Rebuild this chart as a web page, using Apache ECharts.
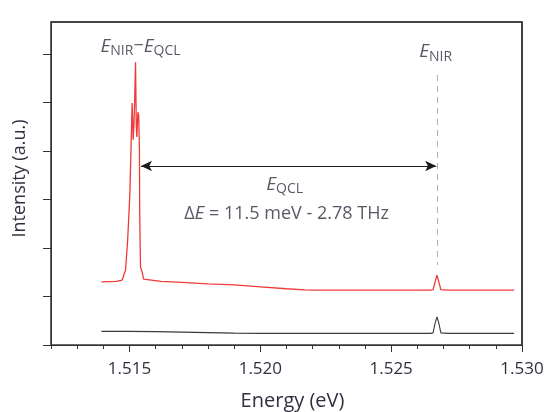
<!DOCTYPE html>
<html>
<head>
<meta charset="utf-8">
<script src="https://cdn.jsdelivr.net/npm/echarts@6/dist/echarts.min.js"></script>
<style>
html,body{margin:0;padding:0;background:#fff;}
#chart{width:546px;height:412px;}
</style>
</head>
<body>
<div id="chart"></div>
<script>
// ---- data ----
var redEnergy = [1.51393, 1.5145, 1.51472, 1.51485, 1.51493, 1.51501, 1.51506, 1.51510, 1.51514, 1.51517, 1.51520, 1.51523, 1.51526, 1.51528, 1.51532, 1.51535, 1.51538, 1.51539, 1.51542, 1.51548, 1.51554, 1.51561, 1.5162, 1.517, 1.518, 1.519, 1.520, 1.521, 1.5217, 1.522, 1.524, 1.5265, 1.5266, 1.52668, 1.52675, 1.52682, 1.5269, 1.5272, 1.5297];
var redIntensity = [1.30, 1.31, 1.34, 1.55, 2.17, 3.06, 4.09, 4.99, 4.23, 4.55, 5.1, 5.83, 4.5, 4.29, 4.80, 4.75, 4.02, 2.72, 1.61, 1.51, 1.36, 1.32, 1.31, 1.29, 1.26, 1.24, 1.20, 1.16, 1.135, 1.13, 1.13, 1.13, 1.14, 1.30, 1.44, 1.30, 1.14, 1.13, 1.13];
var blackEnergy = [1.51393, 1.515, 1.516, 1.517, 1.518, 1.519, 1.520, 1.5265, 1.5266, 1.52668, 1.52675, 1.52682, 1.5269, 1.5272, 1.5297];
var blackIntensity = [0.28, 0.28, 0.275, 0.265, 0.255, 0.245, 0.24, 0.24, 0.25, 0.45, 0.58, 0.45, 0.25, 0.24, 0.24];
var minorTicks = [1.512, 1.513, 1.514, 1.515, 1.516, 1.517, 1.518, 1.519, 1.520, 1.521, 1.522, 1.523, 1.524, 1.525, 1.526, 1.527, 1.528, 1.529, 1.530];
var majorTicks = [1.515, 1.520, 1.525, 1.530];
var yTicks = [0, 1, 2, 3, 4, 5, 6];
var xRange = [1.512, 1.530];
var yRange = [0, 6.66];
var eNIR = 1.52675;
var eDiffPeak = 1.51542;
var arrowLevel = 3.69;
var dashTop = 5.57, dashBottom = 1.65;
var labelNIRdiff = [1.51542, 6.16];
var labelNIR = [1.52670, 6.04];
var labelQCL = [1.52093, 3.30];
var labelDelta = [1.52100, 2.70];

var FONT = 'Open Sans';
var TXT = '#2e3040';
var rich = {
  e: {fontStyle: 'italic', fontSize: 19, fontFamily: FONT, color: TXT},
  s: {fontSize: 14, fontFamily: FONT, color: TXT, padding: [9, 0, 0, 0]},
  n: {fontSize: 18, fontFamily: FONT, color: TXT}
};

function textPoint(coord, text) {
  return {
    type: 'scatter', xAxisIndex: 0, yAxisIndex: 0, symbolSize: 0, silent: true,
    data: [coord],
    label: {show: true, position: 'inside', formatter: text, rich: rich, color: TXT, fontFamily: FONT}
  };
}

var chart = echarts.init(document.getElementById('chart'));
var axisColor = '#333';
chart.setOption({
  animation: false,
  backgroundColor: '#fff',
  grid: {left: 51, right: 24, top: 22, bottom: 67, containLabel: false, outerBoundsMode: 'none',
         show: true, borderColor: '#3a3a3a', borderWidth: 1.6},
  xAxis: [
    {type: 'value', min: xRange[0], max: xRange[1], position: 'bottom',
     axisLine: {show: true, onZero: false, lineStyle: {color: axisColor, width: 1}},
     axisTick: {show: true, customValues: minorTicks, length: 4, inside: false, lineStyle: {color: axisColor}},
     axisLabel: {show: false}, splitLine: {show: false},
     name: 'Energy (eV)', nameLocation: 'middle', nameGap: 46,
     nameTextStyle: {fontFamily: FONT, fontSize: 20, color: TXT, padding: [0, 0, 0, 12]}},
    {type: 'value', min: xRange[0], max: xRange[1], position: 'bottom',
     axisLine: {show: false, onZero: false},
     axisTick: {show: true, customValues: majorTicks, length: 7, inside: false, lineStyle: {color: axisColor}},
     axisLabel: {show: true, customValues: majorTicks, margin: 16, fontFamily: FONT, fontSize: 17, color: TXT,
       formatter: function (v) { return v.toFixed(3); }},
     splitLine: {show: false}}
  ],
  yAxis: [
    {type: 'value', min: yRange[0], max: yRange[1], position: 'left',
     axisLine: {show: true, onZero: false, lineStyle: {color: axisColor, width: 1}},
     axisTick: {show: true, customValues: yTicks, length: 8, inside: false, lineStyle: {color: axisColor}},
     axisLabel: {show: false}, splitLine: {show: false},
     name: 'Intensity (a.u.)', nameLocation: 'middle', nameGap: 22,
     nameTextStyle: {fontFamily: FONT, fontSize: 18, color: TXT, padding: [0, 0, 0, 10]}}
  ],
  series: [
    {type: 'line', name: 'frame', xAxisIndex: 0, yAxisIndex: 0, symbol: 'none', silent: true, clip: false,
     data: [[xRange[0], yRange[1]], [xRange[1], yRange[1]], [xRange[1], yRange[0]]],
     lineStyle: {color: '#3a3a3a', width: 1.6}, z: 1},
    {type: 'line', name: 'red', xAxisIndex: 0, yAxisIndex: 0, symbol: 'none', silent: true,
     data: redEnergy.map(function (x, i) { return [x, redIntensity[i]]; }),
     lineStyle: {color: '#ef3a3a', width: 1.3},
     markLine: {
       silent: true, symbol: ['arrow', 'arrow'], symbolSize: [8, 11], label: {show: false},
       lineStyle: {color: '#1a1a1a', width: 1, type: 'solid'},
       data: [[{coord: [eDiffPeak + 0.00002, arrowLevel]}, {coord: [eNIR - 0.00003, arrowLevel]}]]
     }},
    {type: 'line', name: 'black', xAxisIndex: 0, yAxisIndex: 0, symbol: 'none', silent: true,
     data: blackEnergy.map(function (x, i) { return [x, blackIntensity[i]]; }),
     lineStyle: {color: '#3a3a3a', width: 1.1},
     markLine: {
       silent: true, symbol: ['none', 'none'], label: {show: false},
       lineStyle: {color: '#b0b0b0', width: 1, type: [6, 5]},
       data: [[{coord: [eNIR, dashTop]}, {coord: [eNIR, dashBottom]}]]
     }},
    textPoint(labelNIRdiff, '{e|E}{s|NIR}{n|−}{e|E}{s|QCL}'),
    textPoint(labelNIR, '{e|E}{s|NIR}'),
    textPoint(labelQCL, '{e|E}{s|QCL}'),
    textPoint(labelDelta, '{n|Δ}{e|E}{n| = 11.5 meV - 2.78 THz}')
  ]
});
</script>
</body>
</html>
